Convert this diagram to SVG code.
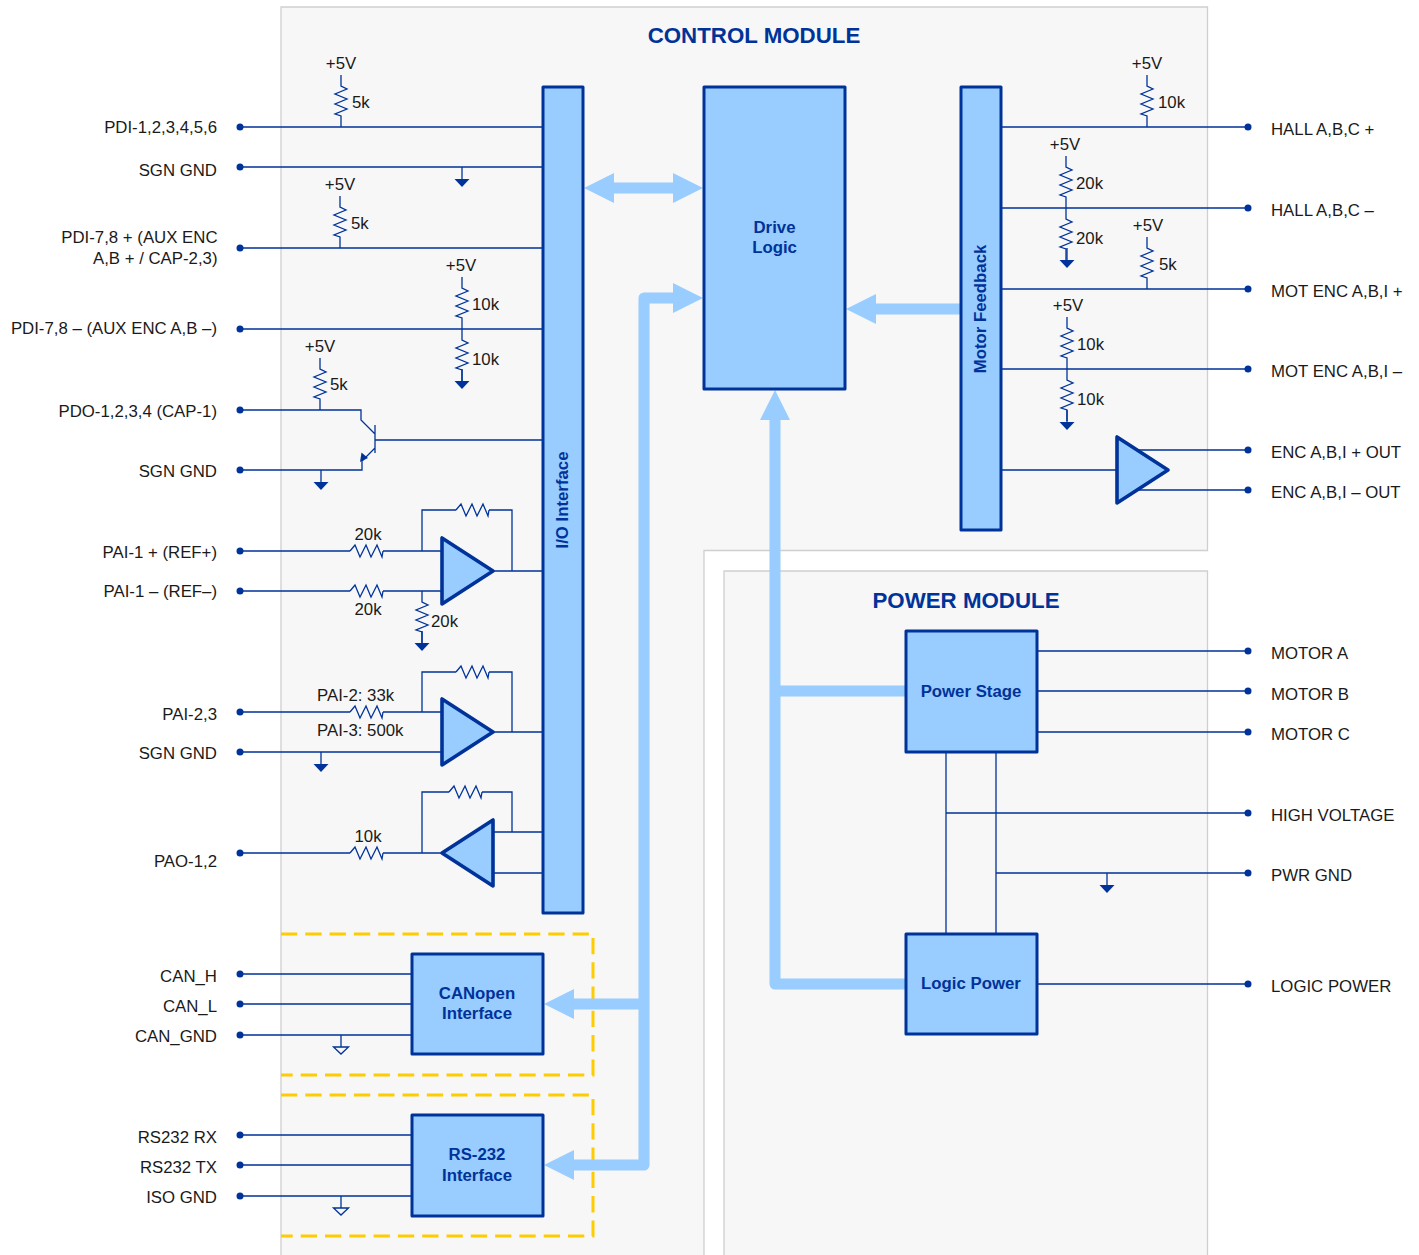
<svg xmlns="http://www.w3.org/2000/svg" xmlns:xlink="http://www.w3.org/1999/xlink" width="1419" height="1255" viewBox="0 0 1419 1255">
<style>
text{font-family:"Liberation Sans",Arial,sans-serif;font-size:16.8px;fill:#1a1a1a}
.l{text-anchor:end}
.c{text-anchor:middle}
.b{font-weight:bold;fill:#003399;text-anchor:middle}
.t{font-size:22.3px}
.panel{fill:#f7f7f7;stroke:#cfcfcf;stroke-width:1.3}
.box{fill:#99ccff;stroke:#003399;stroke-width:3;stroke-linejoin:round}
.tri{stroke-width:3.6}
.w{fill:none;stroke:#003399;stroke-width:1.3}
.dash{fill:none;stroke:#ffcc00;stroke-width:3;stroke-dasharray:16.3 8}
.bus{fill:none;stroke:#99ccff;stroke-width:11;stroke-linejoin:round}
.head{fill:#99ccff}
.dot{fill:#003399}
</style>
<defs>
<path id="rv" class="w" d="M0 0V11L6 14L-6 19L6 24L-6 29L6 34L-6 39L0 41V52"/>
<path id="rh" class="w" d="M0 0L5-6L10 6L16-6L21 6L27-6L32 6L33 0"/>
<g id="gnd"><path class="w" d="M0 0V12"/><path class="dot" d="M-7.500 12H7.500L0 20Z"/></g>
<g id="gndo"><path class="w" d="M0 0V12"/><path fill="#f7f7f7" stroke="#003399" stroke-width="1.300" d="M-7.500 12H7.500L0 19Z"/></g>
<circle id="d" class="dot" r="3.500"/>
</defs>

<g id="control-module">
<path class="panel" d="M281 1255V7H1207.500V550.500H704V1255"/>
<text class="b t" x="754" y="43">CONTROL MODULE</text>
</g>
<g id="power-module">
<path class="panel" d="M724 1255V571H1207.500V1255"/>
<text class="b t" x="966" y="608">POWER MODULE</text>
</g>
<g id="optional-can"><path class="dash" d="M281 934H593V1075H281"/></g>
<g id="optional-rs232"><path class="dash" d="M281 1095H593V1236H281"/></g>

<g id="connectors">
<g id="buses">
<path class="bus" d="M610 188H680"/>
<path class="head" d="M584 188L614 173V203ZM703 188L673 173V203Z"/>
<path class="bus" d="M680 298H644V1165H570M644 1004H570"/>
<path class="head" d="M703 298L673 283V313ZM544 1004L574 989V1019ZM544 1165L574 1150V1180Z"/>
<path class="bus" d="M961 309H870"/>
<path class="head" d="M846 309L876 294V324Z"/>
<path class="bus" d="M775 415V984H906M775 691H906"/>
<path class="head" d="M775 390L760 420H790Z"/>
</g>
<g id="wires">
<path class="w" d="M240 127H542M240 167H542M240 248H542M240 329H542"/>
<path class="w" d="M240 410H361V420L375 434M375 425V453M375 440H542M375 448L362 461V470H240"/>
<path class="dot" d="M360 462L361.500 452.500L368 458Z"/>
<path class="w" d="M240 551H350M383 551H442M240 591H350M383 591H442"/>
<path class="w" d="M422 551V510H456M489 510H512V571M493 571H542"/>
<path class="w" d="M240 712H350M383 712H442M240 752H442"/>
<path class="w" d="M422 712V672H456M489 672H512V732M493 732H542"/>
<path class="w" d="M240 853H350M383 853H442"/>
<path class="w" d="M422 853V792H449M482 792H512V832M493 832H542M493 873H542"/>
<path class="w" d="M240 974H412M240 1004H412M240 1035H412M240 1135H412M240 1165H412M240 1196H412"/>
<path class="w" d="M1001 127H1248M1001 208H1248M1001 289H1248M1001 369H1248"/>
<path class="w" d="M1001 470H1117M1137 450H1248M1137 490H1248"/>
<path class="w" d="M1037 651H1248M1037 691H1248M1037 732H1248M1037 984H1248"/>
<path class="w" d="M946 752V934M996 752V934M946 813H1248M996 873H1248"/>
</g>
<g id="resistors">
<use href="#rv" x="341" y="75"/><use href="#rv" x="340" y="196"/><use href="#rv" x="462" y="277"/><use href="#rv" x="462" y="329"/><use href="#rv" x="320" y="358"/>
<use href="#rv" x="422" y="591"/>
<use href="#rv" x="1147" y="75"/><use href="#rv" x="1066" y="156"/><use href="#rv" x="1066" y="208"/><use href="#rv" x="1147" y="237"/><use href="#rv" x="1067" y="317"/><use href="#rv" x="1067" y="369"/>
<use href="#rh" x="350" y="551"/><use href="#rh" x="350" y="591"/><use href="#rh" x="456" y="510"/>
<use href="#rh" x="350" y="712"/><use href="#rh" x="456" y="672"/><use href="#rh" x="449" y="792"/><use href="#rh" x="350" y="853"/>
</g>
<g id="grounds">
<use href="#gnd" x="462" y="167"/><use href="#gnd" x="462" y="369"/><use href="#gnd" x="321" y="470"/><use href="#gnd" x="422" y="631"/><use href="#gnd" x="321" y="752"/>
<use href="#gnd" x="1067" y="248"/><use href="#gnd" x="1067" y="410"/><use href="#gnd" x="1107" y="873"/>
<use href="#gndo" x="341" y="1035"/><use href="#gndo" x="341" y="1196"/>
</g>
<g id="terminals">
<use href="#d" x="240" y="127"/><use href="#d" x="240" y="167"/><use href="#d" x="240" y="248"/><use href="#d" x="240" y="329"/><use href="#d" x="240" y="410"/><use href="#d" x="240" y="470"/><use href="#d" x="240" y="551"/><use href="#d" x="240" y="591"/><use href="#d" x="240" y="712"/><use href="#d" x="240" y="752"/><use href="#d" x="240" y="853"/><use href="#d" x="240" y="974"/><use href="#d" x="240" y="1004"/><use href="#d" x="240" y="1035"/><use href="#d" x="240" y="1135"/><use href="#d" x="240" y="1165"/><use href="#d" x="240" y="1196"/>
<use href="#d" x="1248" y="127"/><use href="#d" x="1248" y="208"/><use href="#d" x="1248" y="289"/><use href="#d" x="1248" y="369"/><use href="#d" x="1248" y="450"/><use href="#d" x="1248" y="490"/><use href="#d" x="1248" y="651"/><use href="#d" x="1248" y="691"/><use href="#d" x="1248" y="732"/><use href="#d" x="1248" y="813"/><use href="#d" x="1248" y="873"/><use href="#d" x="1248" y="984"/>
</g>
</g>

<g id="io-interface"><rect class="box" x="543" y="87" width="40" height="826"/><text class="b" transform="translate(567.500 500) rotate(-90)">I/O Interface</text></g>
<g id="drive-logic"><rect class="box" x="704" y="87" width="141" height="302"/><text class="b" x="774.500" y="233">Drive</text><text class="b" x="774.500" y="253">Logic</text></g>
<g id="motor-feedback"><rect class="box" x="961" y="87" width="40" height="443"/><text class="b" transform="translate(985.500 309) rotate(-90)">Motor Feedback</text></g>
<g id="power-stage"><rect class="box" x="906" y="631" width="131" height="121"/><text class="b" x="971" y="697">Power Stage</text></g>
<g id="logic-power"><rect class="box" x="906" y="934" width="131" height="100"/><text class="b" x="971" y="989">Logic Power</text></g>
<g id="canopen-interface"><rect class="box" x="412" y="954" width="131" height="100"/><text class="b" x="477" y="999">CANopen</text><text class="b" x="477" y="1019">Interface</text></g>
<g id="rs232-interface"><rect class="box" x="412" y="1115" width="131" height="101"/><text class="b" x="477" y="1160">RS-232</text><text class="b" x="477" y="1181">Interface</text></g>
<g id="amp-1"><path class="box tri" d="M442 538V604L493 571Z"/></g>
<g id="amp-2"><path class="box tri" d="M442 699V765L493 732Z"/></g>
<g id="amp-3"><path class="box tri" d="M493 820V886L442 853Z"/></g>
<g id="encoder-buffer"><path class="box tri" d="M1117 437V503L1168 470Z"/></g>

<g id="labels">
<text class="l" x="217" y="133">PDI-1,2,3,4,5,6</text>
<text class="l" x="217" y="176">SGN GND</text>
<text class="l" x="217.500" y="243">PDI-7,8 + (AUX ENC</text>
<text class="l" x="217.500" y="264">A,B + / CAP-2,3)</text>
<text class="l" x="217" y="334">PDI-7,8 – (AUX ENC A,B –)</text>
<text class="l" x="217" y="417">PDO-1,2,3,4 (CAP-1)</text>
<text class="l" x="217" y="477">SGN GND</text>
<text class="l" x="217" y="558">PAI-1 + (REF+)</text>
<text class="l" x="217" y="597">PAI-1 – (REF–)</text>
<text class="l" x="217" y="720">PAI-2,3</text>
<text class="l" x="217" y="759">SGN GND</text>
<text class="l" x="217" y="867">PAO-1,2</text>
<text class="l" x="217" y="982">CAN_H</text>
<text class="l" x="217" y="1012">CAN_L</text>
<text class="l" x="217" y="1042">CAN_GND</text>
<text class="l" x="217" y="1143">RS232 RX</text>
<text class="l" x="217" y="1173">RS232 TX</text>
<text class="l" x="217" y="1203">ISO GND</text>
<text x="1271" y="135">HALL A,B,C +</text>
<text x="1271" y="216">HALL A,B,C –</text>
<text x="1271" y="297">MOT ENC A,B,I +</text>
<text x="1271" y="377">MOT ENC A,B,I –</text>
<text x="1271" y="458">ENC A,B,I + OUT</text>
<text x="1271" y="498">ENC A,B,I – OUT</text>
<text x="1271" y="659">MOTOR A</text>
<text x="1271" y="700">MOTOR B</text>
<text x="1271" y="740">MOTOR C</text>
<text x="1271" y="821">HIGH VOLTAGE</text>
<text x="1271" y="881">PWR GND</text>
<text x="1271" y="992">LOGIC POWER</text>
<text class="c" x="341" y="69">+5V</text><text x="352" y="108">5k</text>
<text class="c" x="340" y="190">+5V</text><text x="351" y="229">5k</text>
<text class="c" x="461" y="271">+5V</text><text x="472" y="310">10k</text><text x="472" y="365">10k</text>
<text class="c" x="320" y="352">+5V</text><text x="330" y="390">5k</text>
<text class="c" x="368" y="540">20k</text><text class="c" x="368" y="615">20k</text><text x="431" y="627">20k</text>
<text x="317" y="701">PAI-2: 33k</text><text x="317" y="736">PAI-3: 500k</text>
<text class="c" x="368" y="842">10k</text>
<text class="c" x="1147" y="69">+5V</text><text x="1158" y="108">10k</text>
<text class="c" x="1065" y="150">+5V</text><text x="1076" y="189">20k</text><text x="1076" y="244">20k</text>
<text class="c" x="1148" y="231">+5V</text><text x="1159" y="270">5k</text>
<text class="c" x="1068" y="311">+5V</text><text x="1077" y="350">10k</text><text x="1077" y="405">10k</text>
</g>
</svg>
